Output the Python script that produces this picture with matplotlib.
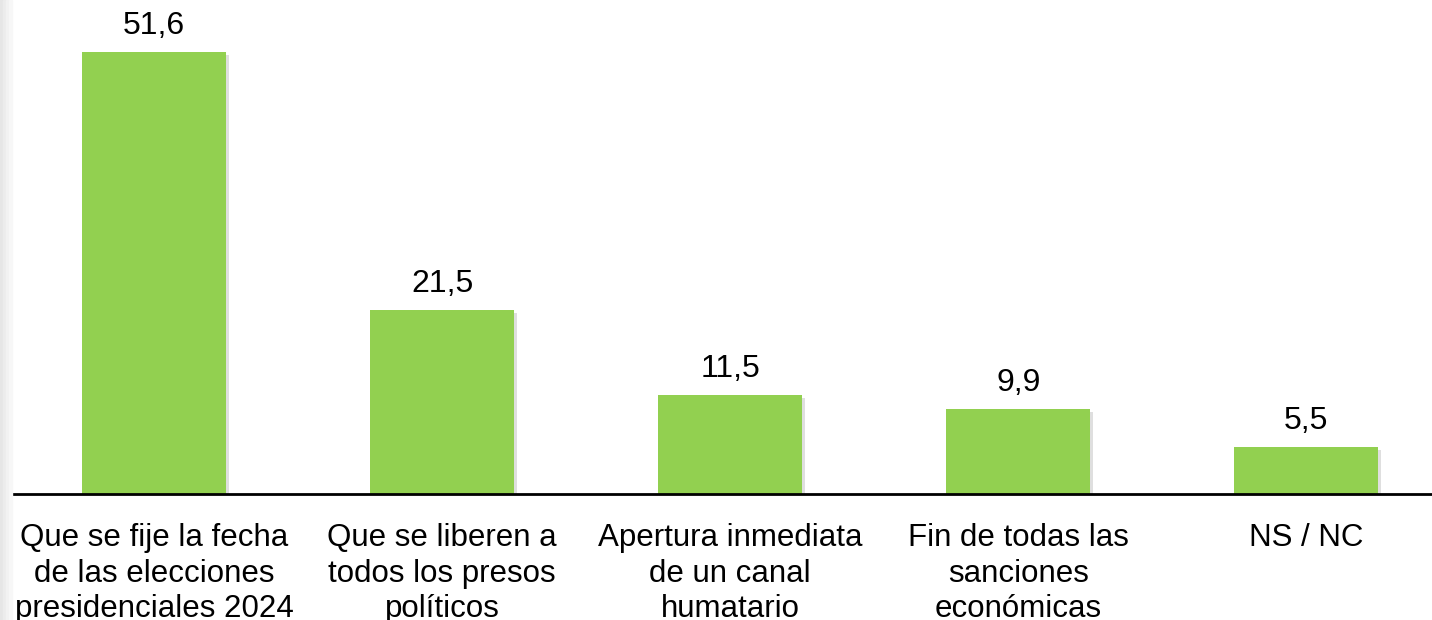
import matplotlib.pyplot as plt
import matplotlib.patheffects as pe
from matplotlib.patches import Rectangle

categories = [
    "Que se fije la fecha\nde las elecciones\npresidenciales 2024",
    "Que se liberen a\ntodos los presos\npolíticos",
    "Apertura inmediata\nde un canal\nhumatario",
    "Fin de todas las\nsanciones\neconómicas",
    "NS / NC",
]
values = [51.6, 21.5, 11.5, 9.9, 5.5]
value_labels = ["51,6", "21,5", "11,5", "9,9", "5,5"]

plt.rcParams["font.family"] = ["Liberation Sans", "DejaVu Sans"]

fig = plt.figure(figsize=(14.32, 6.2), dpi=100)
ax = fig.add_axes([10 / 1432, 126 / 620, 1 - 10 / 1432, 494 / 620])

x = range(len(values))
bars = ax.bar(x, values, width=0.5, color="#92D050", zorder=2)
for b in bars:
    b.set_path_effects([pe.SimplePatchShadow(offset=(2, -2), shadow_rgbFace="gray", alpha=0.25), pe.Normal()])

for xi, v, lab in zip(x, values, value_labels):
    ax.annotate(lab, (xi, v), xytext=(0, 11), textcoords="offset pixels",
                ha="center", va="bottom", fontsize=23)

ax.set_xlim(-0.5, 4.436)
ax.set_ylim(0, 57.67)
ax.set_xticks(list(x))
ax.set_xticklabels(categories, fontsize=22.5, linespacing=1.24)
ax.tick_params(axis="x", length=0, pad=21)
ax.set_yticks([])
for s in ["top", "right", "left"]:
    ax.spines[s].set_visible(False)
ax.spines["bottom"].set_linewidth(2)
ax.spines["bottom"].set_zorder(3)

# light grey strip on the left edge
for i, c in enumerate(["#e6e6e6", "#ececec", "#f2f2f2", "#f7f7f7"]):
    fig.patches.append(Rectangle((i * 3 / 1432, 0), 3 / 1432, 1, transform=fig.transFigure,
                                 color=c, zorder=0))

fig.savefig("out.png", dpi=100)
